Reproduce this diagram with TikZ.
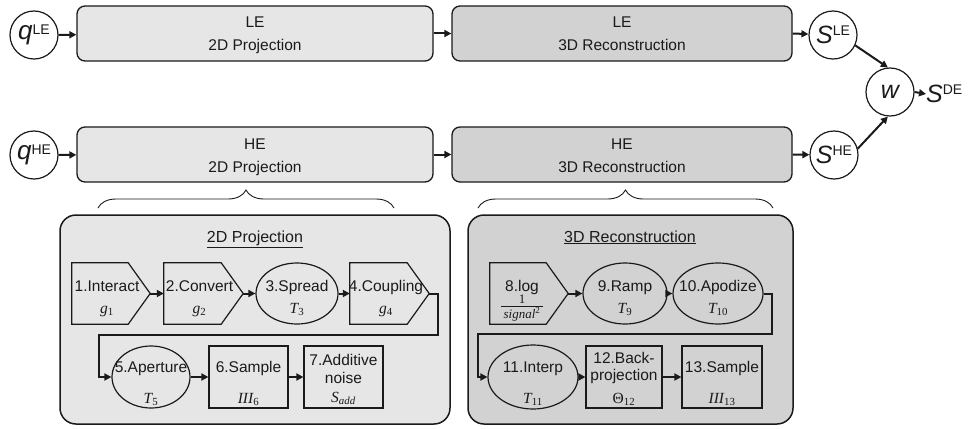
\documentclass[tikz,border=0pt]{standalone}
\usepackage{fontspec}
\setmainfont{Liberation Sans}
\newfontfamily\tms{Liberation Serif}
\usetikzlibrary{arrows.meta,shapes.geometric,decorations.pathreplacing}
\newcommand\mylab[2]{{\tms\itshape #1}\textsubscript{\tms #2}}
\definecolor{lite}{HTML}{E6E6E6}
\definecolor{dark}{HTML}{D2D2D2}
\definecolor{ink}{HTML}{1A1A1A}
\begin{document}
\begin{tikzpicture}[x=1pt,y=-1pt,
  every node/.style={font=\fontsize{15.5}{21}\selectfont, text=ink},
  bigbox/.style={draw=ink, line width=1.3pt, rounded corners=8pt, minimum height=55pt, inner sep=0pt},
  circ/.style={circle, draw=ink, line width=1.2pt, minimum size=48pt, inner sep=0pt, fill=white},
  panel/.style={draw=ink, line width=1.5pt, rounded corners=16pt, inner sep=0pt},
  pent/.style={inner sep=0pt, minimum height=61pt, minimum width=#1},
  ell/.style={draw=ink, line width=1.2pt, inner sep=0pt, ellipse, minimum width=#1},
  box/.style={draw=ink, line width=1.2pt, inner sep=0pt, rectangle, minimum width=#1, minimum height=62pt},
  lbl/.style={anchor=base, inner sep=0pt},
  arr/.style={draw=ink, line width=2pt, -{Triangle[length=7pt,width=7pt]}},
  brc/.style={draw=ink, line width=0.9pt, decorate, decoration={brace, amplitude=18pt, aspect=0.5}},
  ttl/.style={anchor=base, inner sep=0pt, font=\fontsize{16}{16}\selectfont}
]
\path[use as bounding box, fill=white] (0,0) rectangle (971,428);

% ---------- top level ----------
\node[circ] (qle) at (34,35) {{\fontsize{26}{26}\selectfont\itshape q}\raisebox{5pt}{\fontsize{14}{14}\selectfont LE}};
\node[circ] (qhe) at (34,155) {{\fontsize{26}{26}\selectfont\itshape q}\raisebox{5pt}{\fontsize{14}{14}\selectfont HE}};

\node[bigbox, fill=lite, minimum width=356pt] (le2) at (255,33.5) {};
\node[bigbox, fill=dark, minimum width=340pt] (le3) at (622,33.5) {};
\node[bigbox, fill=lite, minimum width=356pt] (he2) at (255,154.5) {};
\node[bigbox, fill=dark, minimum width=340pt] (he3) at (622,154.5) {};

\node[lbl] (le2a) at (255,28) {LE};
\node[lbl] (le2b) at (255,51) {2D Projection};
\node[lbl] (le3a) at (622,28) {LE};
\node[lbl] (le3b) at (622,51) {3D Reconstruction};
\node[lbl] (he2a) at (255,149) {HE};
\node[lbl] (he2b) at (255,172) {2D Projection};
\node[lbl] (he3a) at (622,149) {HE};
\node[lbl] (he3b) at (622,172) {3D Reconstruction};

\node[circ] (sle) at (833,35) {{\fontsize{25}{25}\selectfont\itshape S}\raisebox{8pt}{\fontsize{14}{14}\selectfont LE}};
\node[circ] (she) at (834,155) {{\fontsize{25}{25}\selectfont\itshape S}\raisebox{8pt}{\fontsize{14}{14}\selectfont HE}};
\node[circ] (w) at (890,92) {\fontsize{25}{25}\selectfont\itshape w};
\node[anchor=west, inner sep=0pt] (sde) at (926,94) {{\fontsize{25}{25}\selectfont\itshape S}\raisebox{8pt}{\fontsize{14}{14}\selectfont DE}};

\draw[arr] (qle) -- (le2);
\draw[arr] (le2) -- (le3);
\draw[arr] (le3.east) -- (sle);
\draw[arr] (qhe) -- (he2);
\draw[arr] (he2) -- (he3);
\draw[arr] (he3.east) -- (she);
\draw[arr] (sle.-25) -- (w.95);
\draw[arr] (she.15) -- (w.-95);
\draw[arr] (w.east) -- (sde.west);

% ---------- braces ----------
\coordinate (b2l) at (98,208);
\coordinate (b2r) at (394,208);
\coordinate (b3l) at (478,208);
\coordinate (b3r) at (773,208);
\draw[brc] (b2l) -- (b2r);
\draw[brc] (b3l) -- (b3r);

% ---------- panels ----------
\node[panel, fill=lite, minimum width=390pt, minimum height=209pt] (p2) at (255,319.5) {};
\node[panel, fill=dark, minimum width=325pt, minimum height=209pt] (p3) at (630.5,319.5) {};
\node[ttl] (p2t) at (255,242) {\underline{2D Projection}};
\node[ttl] (p3t) at (630,242) {\underline{3D Reconstruction}};

% ---------- 2D projection steps ----------
\node[pent=78pt] (n1) at (111,293.5) {};
\node[pent=79pt] (n2) at (203.5,293.5) {};
\node[ell=82pt, minimum height=61pt] (n3) at (297,293.5) {};
\node[pent=79pt] (n4) at (389.5,293.5) {};
\node[ell=78pt, minimum height=62pt] (n5) at (151,377) {};
\node[box=79pt] (n6) at (248.5,377) {};
\node[box=79pt] (n7) at (343.5,377) {};

% ---------- 3D reconstruction steps ----------
\node[pent=78pt] (n8) at (529,293.5) {};
\node[ell=84pt, minimum height=61pt] (n9) at (625,293.5) {};
\node[ell=90pt, minimum height=61pt] (n10) at (718,293.5) {};
\node[ell=90pt, minimum height=64pt] (n11) at (533,377) {};
\node[box=76pt] (n12) at (624,377) {};
\node[box=80pt] (n13) at (722,377) {};

\foreach \n in {n1,n2,n4,n8}
  \draw[draw=ink, line width=1.2pt] (\n.north west) -- ([xshift=-22pt]\n.north east) -- (\n.east)
     -- ([xshift=-22pt]\n.south east) -- (\n.south west) -- cycle;

% labels row 1
\node[lbl] (t1a) at (107,291) {1.Interact};
\node[lbl] (t1b) at (107,313) {\mylab{g}{1}};
\node[lbl] (t2a) at (199.5,291) {2.Convert};
\node[lbl] (t2b) at (199.5,313) {\mylab{g}{2}};
\node[lbl] (t3a) at (297,291) {3.Spread};
\node[lbl] (t3b) at (297,313) {\mylab{T}{3}};
\node[lbl] (t4a) at (386,291) {4.Coupling};
\node[lbl] (t4b) at (386,313) {\mylab{g}{4}};
\node[lbl] (t8a) at (522,291) {8.log};
\node[lbl, font=\fontsize{13}{13}\selectfont] (t8n) at (522,303) {\tms 1};
\node[lbl, font=\fontsize{13}{13}\selectfont] (t8d) at (522,318) {\tms\itshape signal\textsuperscript{\upshape 2}};
\draw[draw=ink, line width=0.7pt] ([xshift=-2pt,yshift=1.5pt]t8d.north west) -- ([xshift=2pt,yshift=1.5pt]t8d.north east);
\node[lbl] (t9a) at (625,291) {9.Ramp};
\node[lbl] (t9b) at (625,313) {\mylab{T}{9}};
\node[lbl] (t10a) at (718,291) {10.Apodize};
\node[lbl] (t10b) at (718,313) {\mylab{T}{10}};

% labels row 2
\node[lbl] (t5a) at (151,372) {5.Aperture};
\node[lbl] (t5b) at (151,403) {\mylab{T}{5}};
\node[lbl] (t6a) at (248.5,372) {6.Sample};
\node[lbl] (t6b) at (248.5,403) {\mylab{III}{6}};
\node[lbl] (t7a) at (343.5,365) {7.Additive};
\node[lbl] (t7b) at (343.5,383) {noise};
\node[lbl] (t7c) at (343.5,402) {\mylab{S}{\itshape add}};
\node[lbl] (t11a) at (533,372) {11.Interp};
\node[lbl] (t11b) at (533,403) {\mylab{T}{11}};
\node[lbl] (t12a) at (624,363) {12.Back-};
\node[lbl] (t12b) at (624,380) {projection};
\node[lbl] (t12c) at (624,403) {{\tms Θ}\textsubscript{\tms 12}};
\node[lbl] (t13a) at (722,372) {13.Sample};
\node[lbl] (t13b) at (722,403) {\mylab{III}{13}};

% ---------- connectors ----------
\draw[arr] (n1.east) -- (n2.west);
\draw[arr] (n2.east) -- (n3.west);
\draw[arr] (n3.east) -- (n4.west);
\coordinate (c4a) at (438,335);
\coordinate (c4b) at (99,335);
\draw[arr, line join=miter] (n4.east) -| (c4a) -- (c4b) |- (n5.west);
\draw[arr] (n5.east) -- (n6.west);
\draw[arr] (n6.east) -- (n7.west);

\draw[arr] (n8.east) -- (n9.west);
\draw[arr] (n9.east) -- (n10.west);
\coordinate (c10a) at (772,334);
\coordinate (c10b) at (478,334);
\draw[arr, line join=miter] (n10.east) -| (c10a) -- (c10b) |- (n11.west);
\draw[arr] (n11.east) -- (n12.west);
\draw[arr] (n12.east) -- (n13.west);
\end{tikzpicture}
\end{document}
